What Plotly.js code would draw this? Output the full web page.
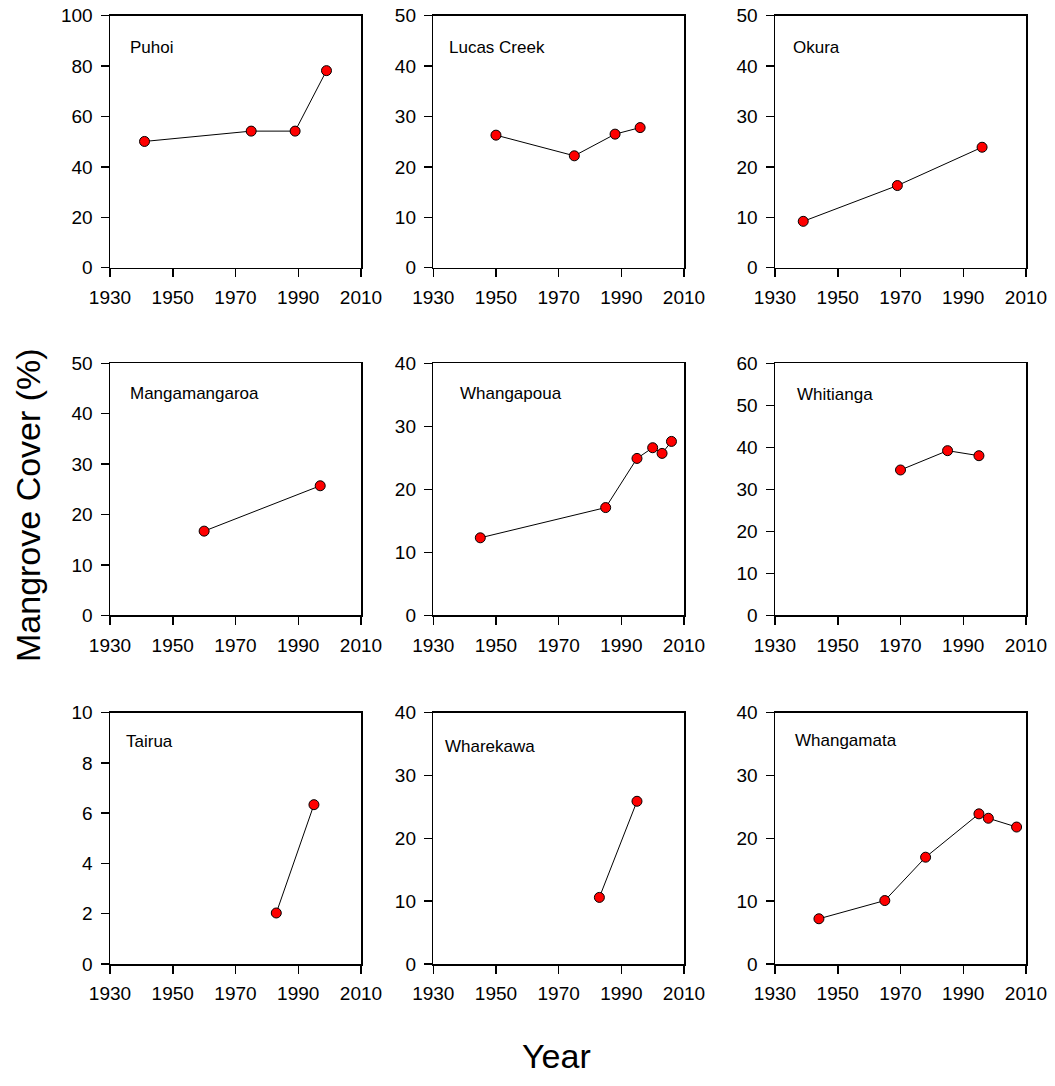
<!DOCTYPE html>
<html>
<head>
<meta charset="utf-8">
<script src="https://cdn.plot.ly/plotly-3.0.1.min.js"></script>
<style>html,body{margin:0;padding:0;background:#fff;}#chart{width:1055px;height:1086px;}</style>
</head>
<body>
<div id="chart"></div>
<script>
// ---- Data ----
const siteNames = ["Puhoi","Lucas Creek","Okura","Mangamangaroa","Whangapoua","Whitianga","Tairua","Wharekawa","Whangamata"];

const puhoiYears = [1941, 1975, 1989, 1999];
const puhoiCover = [50.1, 54.2, 54.2, 78.2];

const lucasYears = [1950, 1975, 1988, 1996];
const lucasCover = [26.3, 22.2, 26.5, 27.8];

const okuraYears = [1939, 1969, 1996];
const okuraCover = [9.2, 16.3, 23.9];

const mangaYears = [1960, 1997];
const mangaCover = [16.7, 25.7];

const whangapouaYears = [1945, 1985, 1995, 2000, 2003, 2006];
const whangapouaCover = [12.3, 17.1, 24.9, 26.6, 25.7, 27.6];

const whitiangaYears = [1970, 1985, 1995];
const whitiangaCover = [34.6, 39.2, 38.0];

const tairuaYears = [1983, 1995];
const tairuaCover = [2.03, 6.34];

const wharekawaYears = [1983, 1995];
const wharekawaCover = [10.6, 25.9];

const whangamataYears = [1944, 1965, 1978, 1995, 1998, 2007];
const whangamataCover = [7.2, 10.1, 17.0, 23.9, 23.2, 21.8];

const yMax  = [100, 50, 50, 50, 40, 60, 10, 40, 40];
const yStep = [20, 10, 10, 10, 10, 10, 2, 10, 10];
const xTicks = [1930, 1950, 1970, 1990, 2010];

const allYears = [puhoiYears, lucasYears, okuraYears, mangaYears, whangapouaYears, whitiangaYears, tairuaYears, wharekawaYears, whangamataYears];
const allCover = [puhoiCover, lucasCover, okuraCover, mangaCover, whangapouaCover, whitiangaCover, tairuaCover, wharekawaCover, whangamataCover];

// ---- Layout geometry ----
const W = 1055, H = 1086;
const colPx = [[110, 361], [433.3, 684], [775, 1026]];
const rowPx = [[15.7, 267.7], [363.3, 615.3], [712.7, 964]];
const labelPos = [
  [0.07, 0.875], [0.055, 0.875], [0.063, 0.875],
  [0.07, 0.88], [0.097, 0.88], [0.08, 0.875],
  [0.057, 0.885], [0.04, 0.865], [0.07, 0.89]
];

const FONT = "Arial, 'Liberation Sans', sans-serif";
const traces = [];
const layout = {
  width: W, height: H,
  margin: {l: 0, r: 0, t: 0, b: 0},
  paper_bgcolor: "#ffffff", plot_bgcolor: "#ffffff",
  showlegend: false,
  font: {family: FONT, color: "#000000", size: 19},
  annotations: []
};

for (let i = 0; i < 9; i++) {
  const r = Math.floor(i / 3), c = i % 3;
  const n = i + 1;
  const xa = n === 1 ? "xaxis" : "xaxis" + n;
  const ya = n === 1 ? "yaxis" : "yaxis" + n;
  const xr = n === 1 ? "x" : "x" + n;
  const yr = n === 1 ? "y" : "y" + n;
  traces.push({
    x: allYears[i], y: allCover[i],
    xaxis: xr, yaxis: yr,
    type: "scatter", mode: "lines+markers",
    line: {color: "#000000", width: 1},
    marker: {color: "#ff0000", size: 10, line: {color: "#000000", width: 1}},
    cliponaxis: false,
    hoverinfo: "skip"
  });
  const common = {
    showline: true, linecolor: "#000000", linewidth: 1.5, mirror: true,
    ticks: "outside", ticklen: 8, tickwidth: 1.5, tickcolor: "#000000",
    showgrid: false, zeroline: false,
    tickfont: {family: FONT, size: 19, color: "#000000"},
    fixedrange: true
  };
  layout[xa] = Object.assign({}, common, {
    domain: [colPx[c][0] / W, colPx[c][1] / W],
    anchor: yr,
    range: [1930, 2010],
    tickmode: "array", tickvals: xTicks, ticktext: xTicks.map(String),
    ticklabelstandoff: 4
  });
  layout[ya] = Object.assign({}, common, {
    domain: [1 - rowPx[r][1] / H, 1 - rowPx[r][0] / H],
    anchor: xr,
    range: [0, yMax[i]],
    tickmode: "linear", tick0: 0, dtick: yStep[i],
    ticklabelstandoff: 4
  });
  layout.annotations.push({
    text: siteNames[i],
    xref: xr + " domain", yref: yr + " domain",
    x: labelPos[i][0], y: labelPos[i][1],
    xanchor: "left", yanchor: "middle",
    showarrow: false,
    font: {family: FONT, size: 17, color: "#000000"}
  });
}

layout.annotations.push({
  text: "Mangrove Cover (%)",
  xref: "paper", yref: "paper",
  x: 28 / W, y: 1 - 505 / H,
  xanchor: "center", yanchor: "middle",
  textangle: -90, showarrow: false,
  font: {family: FONT, size: 34, color: "#000000"}
});
layout.annotations.push({
  text: "Year",
  xref: "paper", yref: "paper",
  x: 556 / W, y: 1 - 1056 / H,
  xanchor: "center", yanchor: "middle",
  showarrow: false,
  font: {family: FONT, size: 34, color: "#000000"}
});

Plotly.newPlot("chart", traces, layout, {staticPlot: true, displayModeBar: false});
</script>
</body>
</html>
